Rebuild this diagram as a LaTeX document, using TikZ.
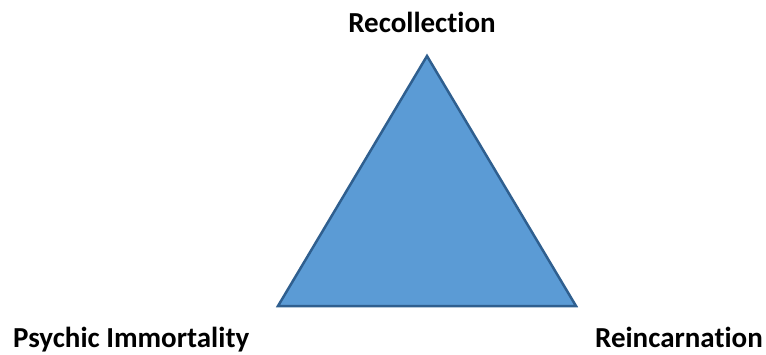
\documentclass[tikz,border=0pt]{standalone}
\usepackage{fontspec}
\setmainfont{Carlito}
\usetikzlibrary{positioning}
\definecolor{triFill}{HTML}{5B9BD5}
\definecolor{triLine}{HTML}{2F5F8F}
% keeps c-t and t-i apart (Carlito joins them)
\newcommand{\nolig}{\kern0pt{}}

\begin{document}
\begin{tikzpicture}[x=1pt, y=-1pt,
	corner/.style={inner sep=0pt, font=\fontsize{29}{34}\selectfont\bfseries}]
			%%%%% START %%%%%
			
			\useasboundingbox (0, 0) rectangle (766, 354);
			
			\coordinate (top) at (427, 56);
			\coordinate (left) at (278, 306);
			\coordinate (right) at (576, 306);
			
			\draw[line width=2.5pt, color=triLine, fill=triFill, line join=miter] (top) -- (left) -- (right) -- cycle;
			
			\node[corner, anchor=base] (recollection) at (422, 32) {Recollec\nolig t\nolig ion};
			\node[corner, anchor=base west] (psychic) at (13, 347) {Psychic Immortality};
			\node[corner, anchor=base east] (reincarnation) at (763, 347) {Reincarnat\nolig ion};
			
			%%%%% END %%%%%
		\end{tikzpicture}
\end{document}
